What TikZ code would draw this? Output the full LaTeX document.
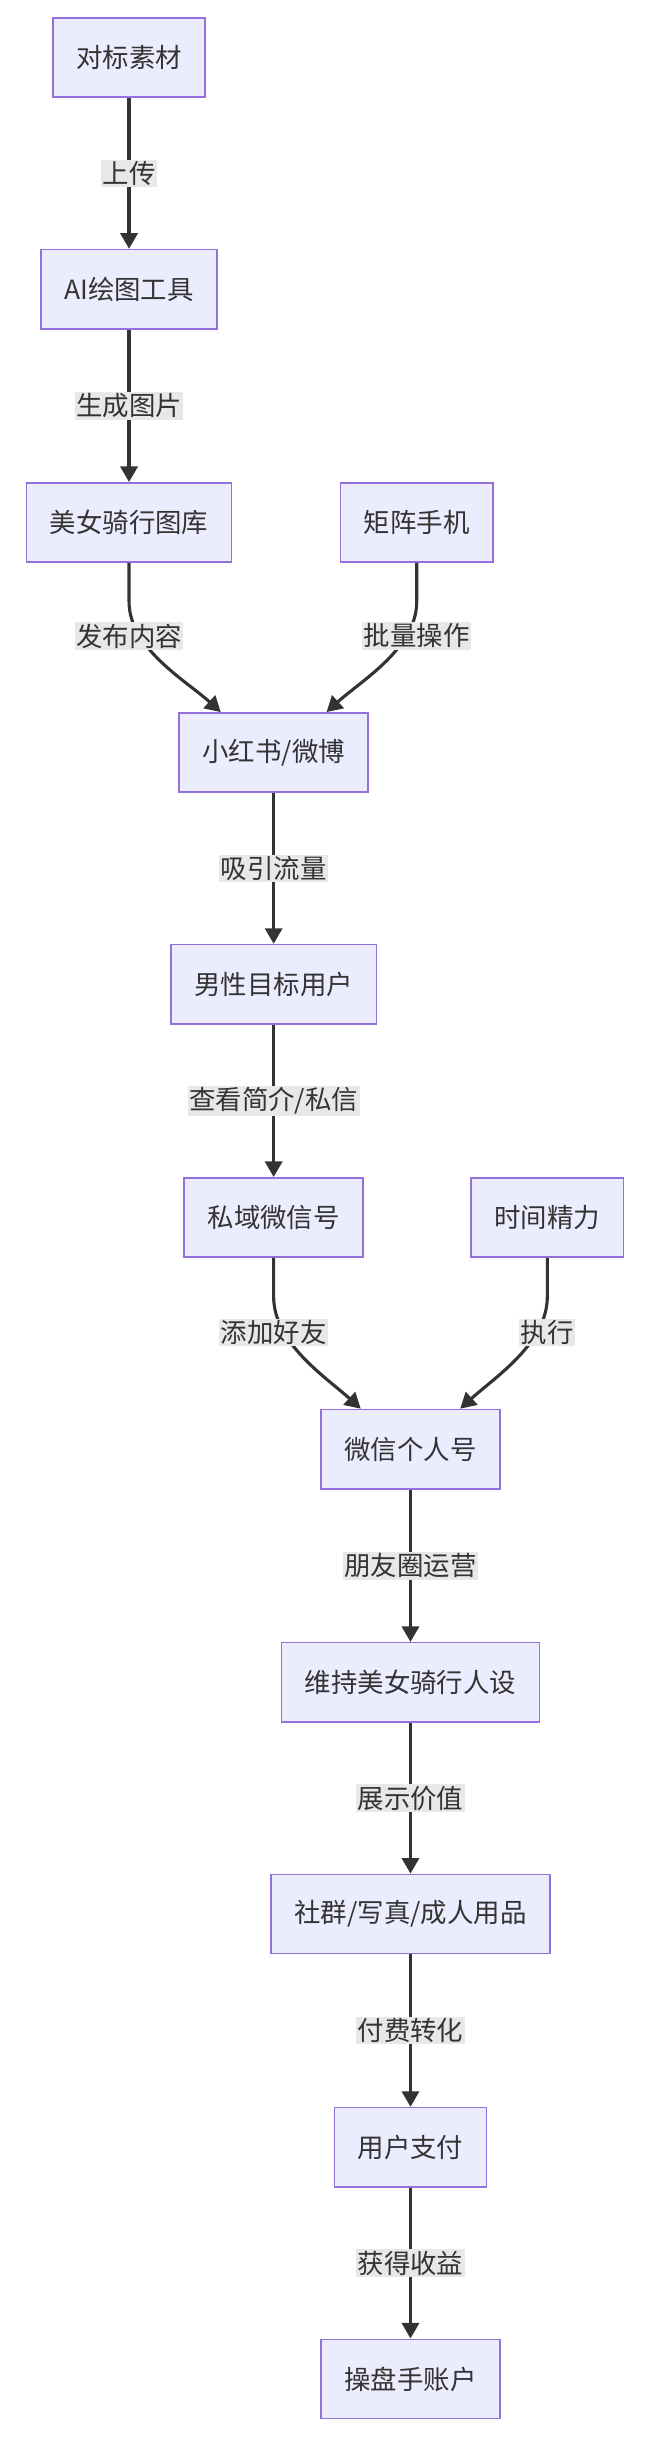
\documentclass[tikz,border=0pt]{standalone}
\usepackage{fontspec}
\setmainfont{Noto Sans CJK SC}
\usetikzlibrary{arrows.meta}
\definecolor{boxfill}{HTML}{ECECFF}
\definecolor{boxline}{HTML}{9370DB}
\definecolor{edge}{HTML}{333333}
\definecolor{lblbg}{HTML}{E8E8E8}
\begin{document}
\begin{tikzpicture}[x=1pt,y=-1pt,
  box/.style={draw=boxline,fill=boxfill,line width=1pt,minimum height=51pt,inner xsep=15pt,font=\fontsize{17}{20}\selectfont,text=edge},
  lbl/.style={fill=lblbg,inner sep=1pt,font=\fontsize{17}{20}\selectfont,text=edge},
  arr/.style={draw=edge,line width=2pt,-{Triangle[length=10pt,width=11pt]}}]
\useasboundingbox (0,0) rectangle (415,1568);
\node[box] (a) at (83,37) {对标素材};
\node[box] (b) at (83,186) {AI绘图工具};
\node[box] (c) at (83,336) {美女骑行图库};
\node[box] (d) at (268,336) {矩阵手机};
\node[box] (e) at (176,484) {小红书/微博};
\node[box] (f) at (176,633) {男性目标用户};
\node[box] (g) at (176,783) {私域微信号};
\node[box] (h) at (352,783) {时间精力};
\node[box] (i) at (264,932) {微信个人号};
\node[box] (j) at (264,1082) {维持美女骑行人设};
\node[box] (k) at (264,1231) {社群/写真/成人用品};
\node[box] (l) at (264,1381) {用户支付};
\node[box] (m) at (264,1530) {操盘手账户};
\draw[arr] (a) -- node[lbl]{上传} (b);
\draw[arr] (b) -- node[lbl]{生成图片} (c);
\draw[arr] (c.south) -- ++(0,25) .. controls +(0,30) and +(-22,-20) .. ([xshift=-34pt]e.north);
\node[lbl] at (83,409) {发布内容};
\draw[arr] (d.south) -- ++(0,25) .. controls +(0,30) and +(22,-20) .. ([xshift=34pt]e.north);
\node[lbl] at (268,409) {批量操作};
\draw[arr] (e) -- node[lbl]{吸引流量} (f);
\draw[arr] (f) -- node[lbl]{查看简介/私信} (g);
\draw[arr] (g.south) -- ++(0,25) .. controls +(0,30) and +(-22,-20) .. ([xshift=-32pt]i.north);
\node[lbl] at (176,857) {添加好友};
\draw[arr] (h.south) -- ++(0,25) .. controls +(0,30) and +(22,-20) .. ([xshift=32pt]i.north);
\node[lbl] at (352,857) {执行};
\draw[arr] (i) -- node[lbl]{朋友圈运营} (j);
\draw[arr] (j) -- node[lbl]{展示价值} (k);
\draw[arr] (k) -- node[lbl]{付费转化} (l);
\draw[arr] (l) -- node[lbl]{获得收益} (m);
\end{tikzpicture}
\end{document}
